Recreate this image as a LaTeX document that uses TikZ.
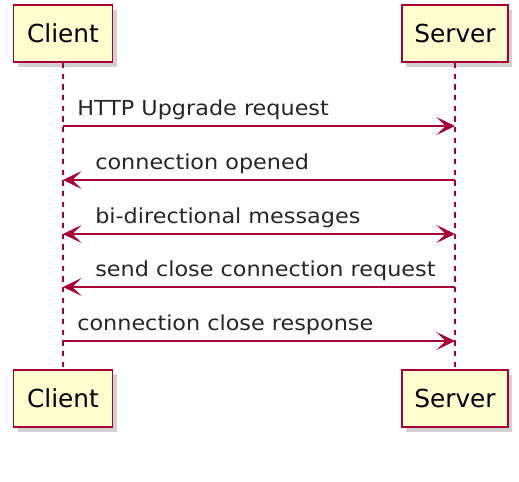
\documentclass[tikz,border=0pt]{standalone}
\usepackage{fontspec}
\setmainfont{DejaVu Sans}
\newfontfamily\msgfont[FakeStretch=1.08]{DejaVu Sans}
\usetikzlibrary{arrows.meta,shadows}
\definecolor{umlred}{RGB}{168,0,54}
\definecolor{umlfill}{RGB}{254,254,206}
\tikzset{
  actorbox/.style={draw=umlred, line width=1.4pt, fill=umlfill, inner sep=0pt,
    minimum height=42.75pt, font=\fontsize{18.6}{20}\selectfont,
    drop shadow={shadow xshift=3pt, shadow yshift=-3.5pt, opacity=0.3, fill=black!60}},
  lifeline/.style={draw=umlred, line width=1pt, dash pattern=on 4pt off 4pt},
  umlhead/.tip={Stealth[length=14pt,width=13.5pt,inset=7pt]},
  msg/.style={draw=umlred, line width=0.9pt, -umlhead},
  msgboth/.style={msg, umlhead-umlhead},
  msglabel/.style={anchor=base west, inner sep=0pt, text=black!85, font=\msgfont\fontsize{15.5}{17}\selectfont}
}
\begin{document}
\begin{tikzpicture}[x=0.75pt,y=0.75pt,yscale=-1,xscale=1]
\useasboundingbox (0,0) rectangle (519,482);

%Participants
\node[actorbox, minimum width=74.25pt] (clientTop) at (63,33.5) {Client};
\node[actorbox, minimum width=79.5pt] (serverTop) at (455,33.5) {Server};
\node[actorbox, minimum width=74.25pt] (clientBot) at (63,398.5) {Client};
\node[actorbox, minimum width=79.5pt] (serverBot) at (455,398.5) {Server};

%Lifelines
\draw[lifeline] (clientTop) -- (clientBot);
\draw[lifeline] (serverTop) -- (serverBot);

%Message points on the lifelines
\foreach \n/\y in {1/126,2/180,3/234,4/287,5/341} {
  \coordinate (c\n) at (clientTop |- 0,\y);
  \coordinate (s\n) at (serverTop |- 0,\y);
}

%Messages
\draw[msg] (c1) -- (s1);
\node[msglabel] (upgrade) at (77,115) {HTTP Upgrade request};
\draw[msg] (s2) -- (c2);
\node[msglabel] (opened) at (95,169) {connection opened};
\draw[msgboth] (c3) -- (s3);
\node[msglabel] (bidir) at (95,223) {bi-directional messages};
\draw[msg] (s4) -- (c4);
\node[msglabel] (closereq) at (95,276) {send close connection request};
\draw[msg] (c5) -- (s5);
\node[msglabel] (closeresp) at (77,330) {connection close response};

\end{tikzpicture}
\end{document}
